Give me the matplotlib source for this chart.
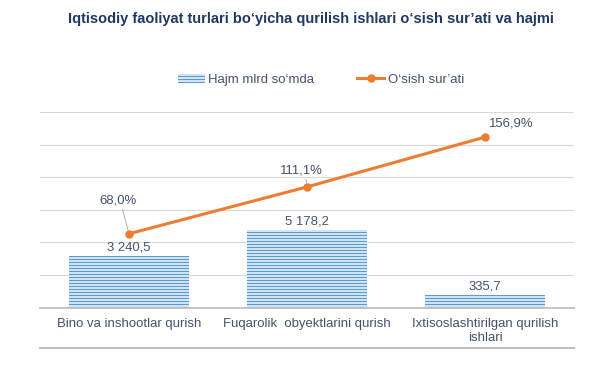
import matplotlib.pyplot as plt

plt.rcParams['font.family'] = ['Liberation Sans', 'DejaVu Sans']

# data
categories = ['Bino va inshootlar qurish',
              'Fuqarolik  obyektlarini qurish',
              'Ixtisoslashtirilgan qurilish\nishlari']
volume = [3240.5, 5178.2, 335.7]          # Hajm mlrd so'mda
growth = [68.0, 111.1, 156.9]             # O'sish sur'ati, %
volume_labels = ['3 240,5', '5 178,2', '335,7']
growth_labels = ['68,0%', '111,1%', '156,9%']

text_col = '#44546A'
bar_col = '#5B9BD5'
line_col = '#ED7D31'

# 108 dpi so the stripe hatch lands on whole pixels; point sizes scaled to match
DPI = 108
k = 100 / DPI
fs = 9.5 * k

plt.rcParams['hatch.linewidth'] = 72 / DPI   # one pixel

fig = plt.figure(figsize=(611 / DPI, 368 / DPI), dpi=DPI)
ax = fig.add_axes([0.0655, 0.1639, 0.874, 0.5318])
ax2 = ax.twinx()

# primary axis (bars) - the value axis floor sits a bit below zero
floor, ceil = -613, 13972
x = range(len(categories))
bars = ax.bar(x, [v - floor for v in volume], bottom=floor, width=0.674,
              color='#D2E3F3', edgecolor=bar_col, linewidth=0, hatch='------',
              label='Hajm mlrd so\u2018mda', zorder=2)
ax.set_ylim(floor, ceil)
ax.set_xlim(-0.5, len(categories) - 0.5)

for xi, v, lab in zip(x, volume, volume_labels):
    ax.annotate(lab, (xi, v), xytext=(0, 2 * k), textcoords='offset points',
                ha='center', va='bottom', fontsize=fs, color=text_col)

# gridlines every 30% of the secondary scale
for g in range(30, 181, 30):
    ax.axhline(floor + (ceil - floor) * g / 180, color='#D9D9D9', lw=0.8 * k, zorder=1)

# secondary axis (line)
ax2.set_ylim(0, 180)
line, = ax2.plot(x, growth, color=line_col, lw=2.2 * k, marker='o', ms=5 * k,
                 label='O\u2018sish sur\u2019ati', zorder=3)

offsets = [(-8, 24), (-4, 12), (19, 10)]
for xi, g, lab, off in zip(x, growth, growth_labels, offsets):
    arrow = None
    if off[0] < 0:
        arrow = dict(arrowstyle='-', color='#A6A6A6', lw=0.6,
                     shrinkA=0, shrinkB=3, relpos=(0.6, 0))
    ax2.annotate(lab, (xi, g), xytext=(off[0] * k, off[1] * k),
                 textcoords='offset points', ha='center', va='center',
                 fontsize=fs, color=text_col, arrowprops=arrow)

ax2.patch.set_visible(False)

for a in (ax, ax2):
    for s in a.spines.values():
        s.set_visible(False)
    a.tick_params(left=False, right=False, labelleft=False, labelright=False)
ax.spines['bottom'].set_visible(True)
ax.spines['bottom'].set_color('#BFBFBF')
ax.spines['bottom'].set_linewidth(1.3 * k)
ax.spines['bottom'].set_zorder(4)

ax.set_xticks(list(x))
ax.set_xticklabels(categories, fontsize=fs, color=text_col, linespacing=1.2)
ax.tick_params(axis='x', length=0, pad=7.5 * k)

# horizontal rule under the category labels
fig.add_artist(plt.Line2D([0.0655, 0.9394], [1 - 347.7 / 368] * 2,
                          color='#BFBFBF', lw=1.5 * k))

fig.text(0.509, 1 - 19 / 368, 'Iqtisodiy faoliyat turlari bo\u2018yicha qurilish ishlari o\u2018sish sur\u2019ati va hajmi',
         ha='center', va='center', fontsize=10.5 * k, fontweight='bold', color='#1F3864')

fig.legend(handles=[bars, line], loc='center', bbox_to_anchor=(0.525, 1 - 80 / 368),
           ncol=2, frameon=False, fontsize=fs, handlelength=2.05,
           handletextpad=0.25, columnspacing=3.3, labelcolor=text_col)

fig.savefig('out.png', dpi=DPI)
